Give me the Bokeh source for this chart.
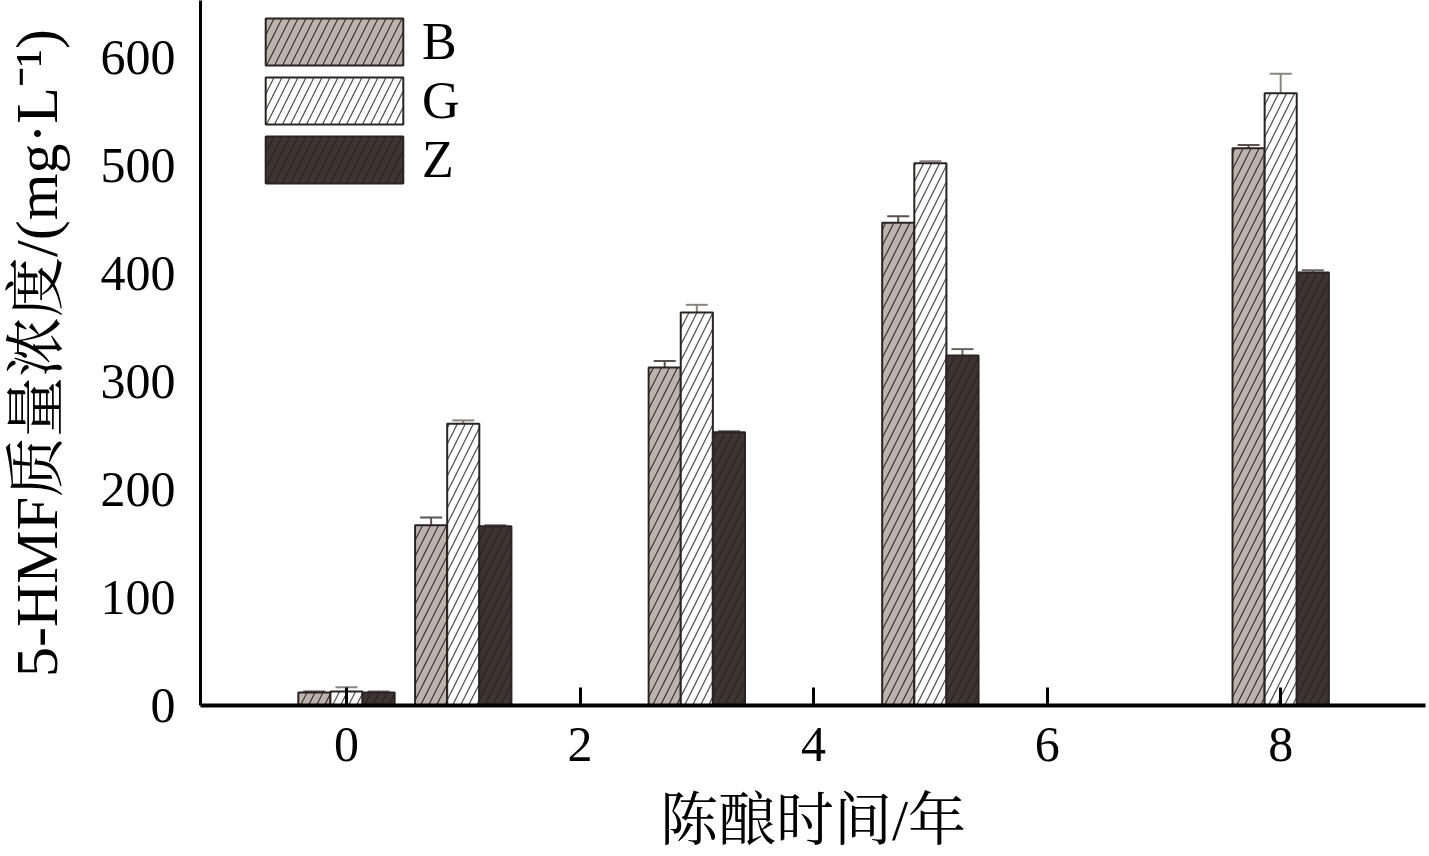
from bokeh.plotting import figure
from bokeh.models import ColumnDataSource, Whisker, TeeHead, Legend, LegendItem, FixedTicker, Range1d
from bokeh.transform import dodge
from bokeh.embed import file_html
from bokeh.resources import INLINE

years = [0, 1, 3, 5, 8]
B = [12, 167, 313, 447, 516]
G = [13, 261, 364, 502, 567]
Z = [12, 166, 253, 324, 401]
B_err = [1, 7, 6, 6, 3]
G_err = [4, 3, 7, 2, 18]
Z_err = [1, 1, 1, 6, 2]
x_ticks = [0, 2, 4, 6, 8]
y_ticks = [0, 100, 200, 300, 400, 500, 600]

SERIF = "'Liberation Serif', 'Noto Serif CJK SC', 'Noto Sans CJK SC'"
bw = 0.275

p = figure(width=1429, height=856, output_backend="svg", toolbar_location=None,
           x_range=Range1d(-1.25, 9.24), y_range=Range1d(0, 652.8),
           min_border_left=200, min_border_right=4, min_border_top=0, min_border_bottom=151)
p.xgrid.visible = False
p.ygrid.visible = False
p.outline_line_color = None

series = [
    ("B", B, B_err, -bw, "#bcb3ad", "#2b2323", 0.9, "#5a5252"),
    ("G", G, G_err, 0.0, "#ffffff", "#3a3333", 0.9, "#8a8482"),
    ("Z", Z, Z_err, bw, "#3e3533", "#1e1817", 0.7, "#6a6361"),
]
items = []
for name, vals, errs, off, fill, hatch, halpha, ecol in series:
    src = ColumnDataSource(dict(x=years, top=vals,
                                base=[y + off for y in years],
                                upper=[v + e for v, e in zip(vals, errs)],
                                lower=[v - e for v, e in zip(vals, errs)]))
    r = p.vbar(x=dodge("x", off), top="top", width=bw, source=src,
               fill_color=fill, line_color="#2b2323", line_width=2,
               hatch_pattern="/", hatch_color=hatch, hatch_alpha=halpha,
               hatch_scale=16, hatch_weight=1.2)
    items.append(LegendItem(label=name, renderers=[r]))
    w = Whisker(base="base", upper="upper", lower="lower", source=src,
                line_color=ecol, line_width=2,
                upper_head=TeeHead(size=22, line_color=ecol, line_width=2),
                lower_head=TeeHead(size=22, line_color=ecol, line_width=2))
    p.add_layout(w)

legend = Legend(items=items, location=(48, 516), orientation="vertical",
                glyph_width=172, glyph_height=59, spacing=-6, label_standoff=2,
                label_text_font=SERIF, label_text_font_size="52px", label_text_color="black",
                background_fill_alpha=0, border_line_color=None, padding=0, margin=0)
p.add_layout(legend)

p.xaxis.ticker = FixedTicker(ticks=x_ticks)
p.xaxis.major_tick_in = 18
p.xaxis.major_tick_out = 0
p.xaxis.major_tick_line_width = 3
p.xaxis.major_tick_line_color = "black"
p.xaxis.minor_tick_line_color = None
p.xaxis.axis_line_width = 4
p.xaxis.axis_line_color = "black"
p.xaxis.major_label_text_font = SERIF
p.xaxis.major_label_text_font_size = "50px"
p.xaxis.major_label_text_color = "black"
p.xaxis.major_label_standoff = 22
p.xaxis.axis_label = "陈酿时间/年"
p.xaxis.axis_label_text_font = SERIF
p.xaxis.axis_label_text_font_size = "58px"
p.xaxis.axis_label_text_color = "black"
p.xaxis.axis_label_text_font_style = "normal"
p.xaxis.axis_label_standoff = 24

p.yaxis.ticker = FixedTicker(ticks=y_ticks)
p.yaxis.major_tick_line_color = None
p.yaxis.major_tick_out = 0
p.yaxis.major_tick_in = 0
p.yaxis.minor_tick_line_color = None
p.yaxis.axis_line_width = 3
p.yaxis.axis_line_color = "black"
p.yaxis.major_label_text_font = SERIF
p.yaxis.major_label_text_font_size = "50px"
p.yaxis.major_label_text_color = "black"
p.yaxis.major_label_standoff = 25
p.yaxis.axis_label = "5-HMF质量浓度/(mg·L⁻¹)"
p.yaxis.axis_label_text_font = SERIF
p.yaxis.axis_label_text_font_size = "60px"
p.yaxis.axis_label_text_color = "black"
p.yaxis.axis_label_text_font_style = "normal"
p.yaxis.axis_label_standoff = 28

open("out.html", "w").write(file_html(p, INLINE))
